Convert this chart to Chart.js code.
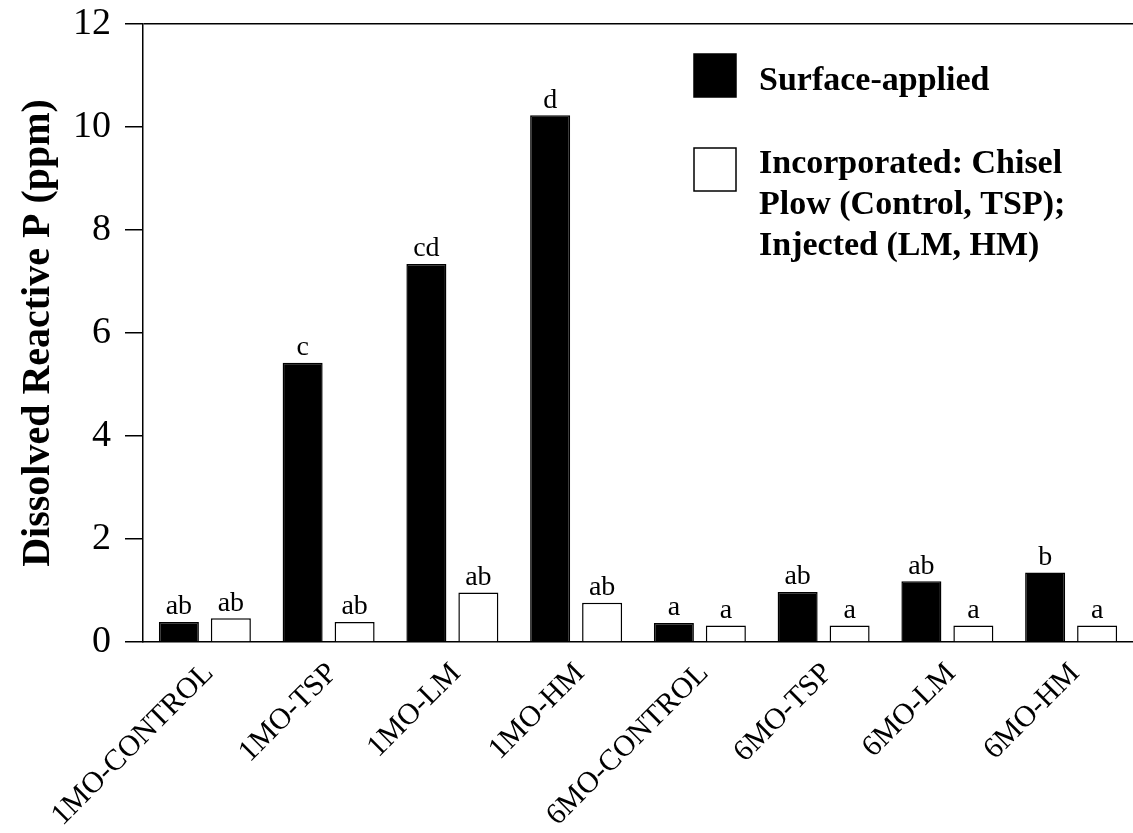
<!DOCTYPE html>
<html>
<head>
<meta charset="utf-8">
<script src="https://cdn.jsdelivr.net/npm/chart.js@4.4.1/dist/chart.umd.min.js"></script>
<style>
  body { margin: 0; background: #fff; }
</style>
</head>
<body>
<canvas id="myChart" width="1133" height="833"></canvas>
<script>
// data
var categories = ['1MO-CONTROL', '1MO-TSP', '1MO-LM', '1MO-HM', '6MO-CONTROL', '6MO-TSP', '6MO-LM', '6MO-HM'];
var surfaceValues = [0.39, 5.42, 7.34, 10.23, 0.37, 0.97, 1.18, 1.35];
var incorporatedValues = [0.46, 0.39, 0.96, 0.76, 0.32, 0.32, 0.32, 0.32];
var surfaceLetters = ['ab', 'c', 'cd', 'd', 'a', 'ab', 'ab', 'b'];
var incorporatedLetters = ['ab', 'ab', 'ab', 'ab', 'a', 'a', 'a', 'a'];
var yTicks = [0, 2, 4, 6, 8, 10, 12];
var seriesNames = ['Surface-applied', 'Incorporated: Chisel\nPlow (Control, TSP);\nInjected (LM, HM)'];
var yTitle = 'Dissolved Reactive P (ppm)';

var serif = "'Liberation Serif', 'Times New Roman', serif";

// letters over each bar
var letterPlugin = {
    id: 'letters',
    afterDatasetsDraw: function (chart) {
        var ctx = chart.ctx;
        var letters = [surfaceLetters, incorporatedLetters];
        ctx.save();
        ctx.fillStyle = '#000';
        ctx.font = '28px ' + serif;
        ctx.textAlign = 'center';
        ctx.textBaseline = 'bottom';
        chart.data.datasets.forEach(function (ds, i) {
            chart.getDatasetMeta(i).data.forEach(function (bar, j) {
                ctx.fillText(letters[i][j], bar.x, bar.y - 1);
            });
        });
        ctx.restore();
    }
};

// legend drawn by hand, the second label runs over three lines
var legendPlugin = {
    id: 'boxLegend',
    afterDraw: function (chart) {
        var ctx = chart.ctx;
        var boxes = [54, 148];
        var firstLine = [81, 164];
        ctx.save();
        ctx.font = 'bold 34px ' + serif;
        ctx.textBaseline = 'middle';
        ctx.textAlign = 'left';
        chart.data.datasets.forEach(function (ds, i) {
            ctx.fillStyle = ds.backgroundColor;
            ctx.fillRect(694, boxes[i], 42, 43);
            ctx.lineWidth = 1.5;
            ctx.strokeStyle = '#000';
            ctx.strokeRect(694, boxes[i], 42, 43);
            ctx.fillStyle = '#000';
            seriesNames[i].split('\n').forEach(function (line, k) {
                ctx.fillText(line, 759, firstLine[i] + k * 41);
            });
        });
        ctx.restore();
    }
};

var ctx = document.getElementById('myChart').getContext('2d');
var myChart = new Chart(ctx, {
    type: 'bar',
    data: {
        labels: categories,
        datasets: [{
            label: seriesNames[0],
            data: surfaceValues,
            backgroundColor: '#000000',
            borderColor: '#000000',
            borderWidth: 1.5
        }, {
            label: seriesNames[1],
            data: incorporatedValues,
            backgroundColor: '#ffffff',
            borderColor: '#000000',
            borderWidth: 1.5
        }]
    },
    options: {
        responsive: false,
        animation: false,
        categoryPercentage: 0.84,
        barPercentage: 0.77,
        layout: { padding: { left: 0, right: 0, top: 24, bottom: 0 } },
        plugins: {
            legend: { display: false },
            tooltip: { enabled: false }
        },
        scales: {
            x: {
                grid: { display: false, drawTicks: false },
                border: { color: '#000', width: 1.5 },
                ticks: {
                    color: '#000',
                    font: { family: serif, size: 30 },
                    minRotation: 45,
                    maxRotation: 45,
                    autoSkip: false,
                    padding: 14,
                    labelOffset: 4
                },
                afterFit: function (scale) {
                    scale.height = 191;
                    scale.paddingLeft = 0;
                    scale.paddingRight = 0;
                }
            },
            y: {
                min: 0,
                max: 12,
                afterBuildTicks: function (scale) {
                    scale.ticks = yTicks.map(function (v) { return { value: v }; });
                },
                grid: {
                    color: function (c) { return c.tick && c.tick.value === 12 ? '#000' : 'rgba(0,0,0,0)'; },
                    lineWidth: 1.5,
                    tickColor: '#000',
                    tickLength: 18,
                    drawTicks: true
                },
                border: { color: '#000', width: 1.5 },
                ticks: {
                    color: '#000',
                    font: { family: serif, size: 38 },
                    padding: 14
                },
                title: {
                    display: true,
                    text: yTitle,
                    color: '#000',
                    font: { family: serif, size: 40, weight: 'bold' },
                    padding: { top: 15, bottom: 0 }
                },
                afterFit: function (scale) {
                    scale.width = 143;
                    scale.paddingTop = 0;
                    scale.paddingBottom = 0;
                }
            }
        }
    },
    plugins: [letterPlugin, legendPlugin]
});
</script>
</body>
</html>
